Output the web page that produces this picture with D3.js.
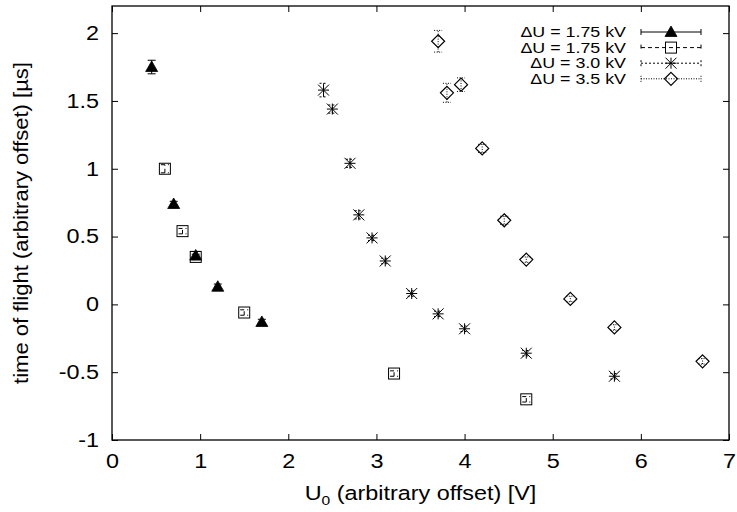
<!DOCTYPE html>
<html>
<head>
<meta charset="utf-8">
<script src="https://cdn.jsdelivr.net/npm/d3@7"></script>
<style>
  body { margin: 0; background: #fff; }
  text { font-family: "Liberation Sans", Arial, sans-serif; fill: #000; }
</style>
</head>
<body>
<svg id="chart" width="737" height="512"></svg>
<script>
// data: U0 [V], time of flight [us], error [us]
const s1x = [0.45, 0.7, 0.95, 1.2, 1.7];
const s1y = [1.75, 0.74, 0.36, 0.13, -0.13];
const s1e = [0.05, 0.02, 0.03, 0.02, 0.02];

const s2x = [0.6, 0.8, 0.95, 1.5, 3.2, 4.7];
const s2y = [1.0, 0.54, 0.35, -0.06, -0.51, -0.7];
const s2e = [0.03, 0.02, 0.02, 0.02, 0.02, 0.02];

const s3x = [2.4, 2.5, 2.7, 2.8, 2.95, 3.1, 3.4, 3.7, 4.0, 4.7, 5.7];
const s3y = [1.58, 1.44, 1.04, 0.66, 0.49, 0.32, 0.08, -0.07, -0.18, -0.36, -0.53];
const s3e = [0.05, 0.03, 0.03, 0.03, 0.02, 0.02, 0.02, 0.02, 0.02, 0.02, 0.02];

const s4x = [3.7, 3.8, 3.96, 4.2, 4.45, 4.7, 5.2, 5.7, 6.7];
const s4y = [1.94, 1.56, 1.62, 1.15, 0.62, 0.33, 0.04, -0.17, -0.42];
const s4e = [0.08, 0.07, 0.05, 0.03, 0.03, 0.02, 0.02, 0.02, 0.02];

const labels = ["\u0394U = 1.75 kV", "\u0394U = 1.75 kV", "\u0394U = 3.0 kV", "\u0394U = 3.5 kV"];
const xTicks = [0, 1, 2, 3, 4, 5, 6, 7];
const yTicks = [-1, -0.5, 0, 0.5, 1, 1.5, 2];

const series = [
  { xs: s1x, ys: s1y, es: s1e, mark: "tri", dash: null },
  { xs: s2x, ys: s2y, es: s2e, mark: "sq", dash: "4,3" },
  { xs: s3x, ys: s3y, es: s3e, mark: "star", dash: "2,2" },
  { xs: s4x, ys: s4y, es: s4e, mark: "dia", dash: "1,1.5" }
];

const svg = d3.select("#chart");
const pLeft = 112, pRight = 729, pTop = 6, pBottom = 440;
const wide = 1.2; // the original font is a bit wider than Liberation Sans

const x = d3.scaleLinear().domain([0, 7]).range([pLeft, pRight]);
const y = d3.scaleLinear().domain([-1, 2.2]).range([pBottom, pTop]);

// stretch text horizontally around its anchor
function stretch(sel, k) {
  sel.each(function () {
    const t = d3.select(this);
    const x0 = +t.attr("x") || 0;
    t.attr("x", x0 / k).attr("transform", "scale(" + k + ",1)");
  });
}

// axes, ticks pointing inward (gnuplot style), mirrored on top/right
const fmt = d => String(d);
const tick = 6;

svg.append("g")
  .attr("transform", "translate(0," + pBottom + ")")
  .call(d3.axisBottom(x).tickValues(xTicks).tickFormat(fmt).tickSizeInner(-tick).tickSizeOuter(0).tickPadding(14))
  .call(g => g.select(".domain").remove())
  .selectAll("text").attr("font-size", "19.5px")
  .call(stretch, wide);

svg.append("g")
  .attr("transform", "translate(" + pLeft + ",0)")
  .call(d3.axisLeft(y).tickValues(yTicks).tickFormat(fmt).tickSizeInner(-tick).tickSizeOuter(0).tickPadding(13))
  .call(g => g.select(".domain").remove())
  .selectAll("text").attr("font-size", "19.5px")
  .call(stretch, wide);

svg.append("g")
  .attr("transform", "translate(0," + pTop + ")")
  .call(d3.axisTop(x).tickValues(xTicks).tickFormat("").tickSizeInner(-tick).tickSizeOuter(0))
  .call(g => g.select(".domain").remove());

svg.append("g")
  .attr("transform", "translate(" + pRight + ",0)")
  .call(d3.axisRight(y).tickValues(yTicks).tickFormat("").tickSizeInner(-tick).tickSizeOuter(0))
  .call(g => g.select(".domain").remove());

svg.selectAll(".tick line").attr("stroke", "#000");

svg.append("rect")
  .attr("x", pLeft).attr("y", pTop)
  .attr("width", pRight - pLeft).attr("height", pBottom - pTop)
  .attr("fill", "none").attr("stroke", "#000").attr("stroke-width", 1.3);

// axis titles
const xt = svg.append("text")
  .attr("x", (pLeft + pRight) / 2 / wide).attr("y", 500)
  .attr("transform", "scale(" + wide + ",1)")
  .attr("text-anchor", "middle").attr("font-size", "19.5px");
xt.append("tspan").text("U");
xt.append("tspan").attr("font-size", "13px").attr("dy", 5).text("0");
xt.append("tspan").attr("dy", -5).text(" (arbitrary offset) [V]");

svg.append("text")
  .attr("transform", "translate(28," + ((pTop + pBottom) / 2) + ") rotate(-90) scale(1.13,1)")
  .attr("text-anchor", "middle").attr("font-size", "19.5px")
  .text("time of flight (arbitrary offset) [\u00b5s]");

// marker drawing
function drawMark(g, kind, cx, cy) {
  if (kind === "tri") {
    g.append("path")
      .attr("d", "M" + cx + "," + (cy - 6) + "L" + (cx + 6) + "," + (cy + 4.5) + "L" + (cx - 6) + "," + (cy + 4.5) + "Z")
      .attr("fill", "#000").attr("stroke", "#000").attr("stroke-width", 0.8);
  } else if (kind === "sq") {
    g.append("rect")
      .attr("x", cx - 5.5).attr("y", cy - 5.5).attr("width", 11).attr("height", 11)
      .attr("fill", "none").attr("stroke", "#000").attr("stroke-width", 1);
  } else if (kind === "star") {
    const r = 5.5;
    g.append("path")
      .attr("d", "M" + (cx - r) + "," + cy + "H" + (cx + r) +
        "M" + cx + "," + (cy - r) + "V" + (cy + r) +
        "M" + (cx - r) + "," + (cy - r) + "L" + (cx + r) + "," + (cy + r) +
        "M" + (cx - r) + "," + (cy + r) + "L" + (cx + r) + "," + (cy - r))
      .attr("fill", "none").attr("stroke", "#000").attr("stroke-width", 1);
  } else {
    const r = 6.5;
    g.append("path")
      .attr("d", "M" + cx + "," + (cy - r) + "L" + (cx + r) + "," + cy + "L" + cx + "," + (cy + r) + "L" + (cx - r) + "," + cy + "Z")
      .attr("fill", "none").attr("stroke", "#000").attr("stroke-width", 1.2);
  }
}

const plot = svg.append("g");

series.forEach(s => {
  const g = plot.append("g");
  s.xs.forEach((xv, i) => {
    const cx = x(xv), y0 = y(s.ys[i] - s.es[i]), y1 = y(s.ys[i] + s.es[i]);
    const eb = g.append("g").attr("stroke", "#000").attr("stroke-width", 1)
      .attr("stroke-dasharray", s.dash);
    eb.append("line").attr("x1", cx).attr("x2", cx).attr("y1", y0).attr("y2", y1);
    eb.append("line").attr("x1", cx - 4).attr("x2", cx + 4).attr("y1", y0).attr("y2", y0);
    eb.append("line").attr("x1", cx - 4).attr("x2", cx + 4).attr("y1", y1).attr("y2", y1);
    drawMark(g, s.mark, cx, y(s.ys[i]));
  });
});

// legend
const legX = 626, legY = 32, legStep = 15.6;
series.forEach((s, i) => {
  const ly = legY + i * legStep;
  svg.append("text")
    .attr("x", legX).attr("y", ly + 5.3)
    .attr("text-anchor", "end").attr("font-size", "14.5px")
    .text(labels[i])
    .call(stretch, 1.23);
  const lg = svg.append("g").attr("stroke", "#000").attr("stroke-width", 1)
    .attr("stroke-dasharray", s.dash);
  lg.append("line").attr("x1", 641).attr("x2", 701).attr("y1", ly).attr("y2", ly);
  lg.append("line").attr("x1", 641).attr("x2", 641).attr("y1", ly - 3).attr("y2", ly + 3);
  lg.append("line").attr("x1", 701).attr("x2", 701).attr("y1", ly - 3).attr("y2", ly + 3);
  drawMark(svg.append("g"), s.mark, 671, ly);
});
</script>
</body>
</html>
